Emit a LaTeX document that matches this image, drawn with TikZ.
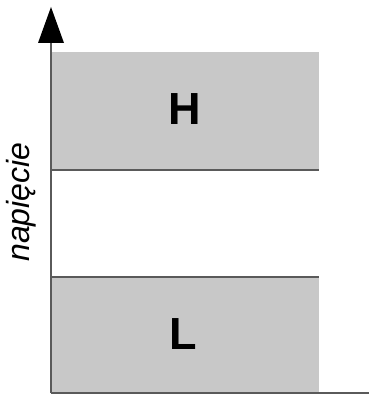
\documentclass[tikz,border=0pt]{standalone}
\usepackage{fontspec}
\setmainfont{Liberation Sans}
\definecolor{boxgray}{HTML}{C8C8C8}
\definecolor{linegray}{HTML}{5A5A5A}
\tikzset{
  band/.style={fill=boxgray, draw=none},
  level/.style={draw=linegray, line width=2.2pt},
  biglabel/.style={font=\fontsize{45}{45}\selectfont\bfseries, inner sep=0pt},
  axlabel/.style={font=\fontsize{32}{32}\selectfont\itshape, inner sep=0pt, rotate=90}
}
\begin{document}
\begin{tikzpicture}[x=1pt,y=-1pt]
\useasboundingbox (0,0) rectangle (369,395);
% bands
\fill[band] (52,52) rectangle (319,170);
\fill[band] (52,277) rectangle (319,393);
% level lines
\draw[level] (51,170) -- (319,170);
\draw[level] (51,277) -- (319,277);
\draw[level] (51,393) -- (369,393);
% axis
\coordinate (o) at (51,393);
\coordinate (t) at (51,42);
\draw[level] (o) -- (t);
\fill[black] (38,43) -- (64,43) -- (51,7) -- cycle;
% labels
\node[biglabel] (H) at (185,109) {H};
\node[biglabel] (L) at (183,334) {L};
\node[axlabel] (ax) at (21,202) {napięcie};
\end{tikzpicture}
\end{document}
